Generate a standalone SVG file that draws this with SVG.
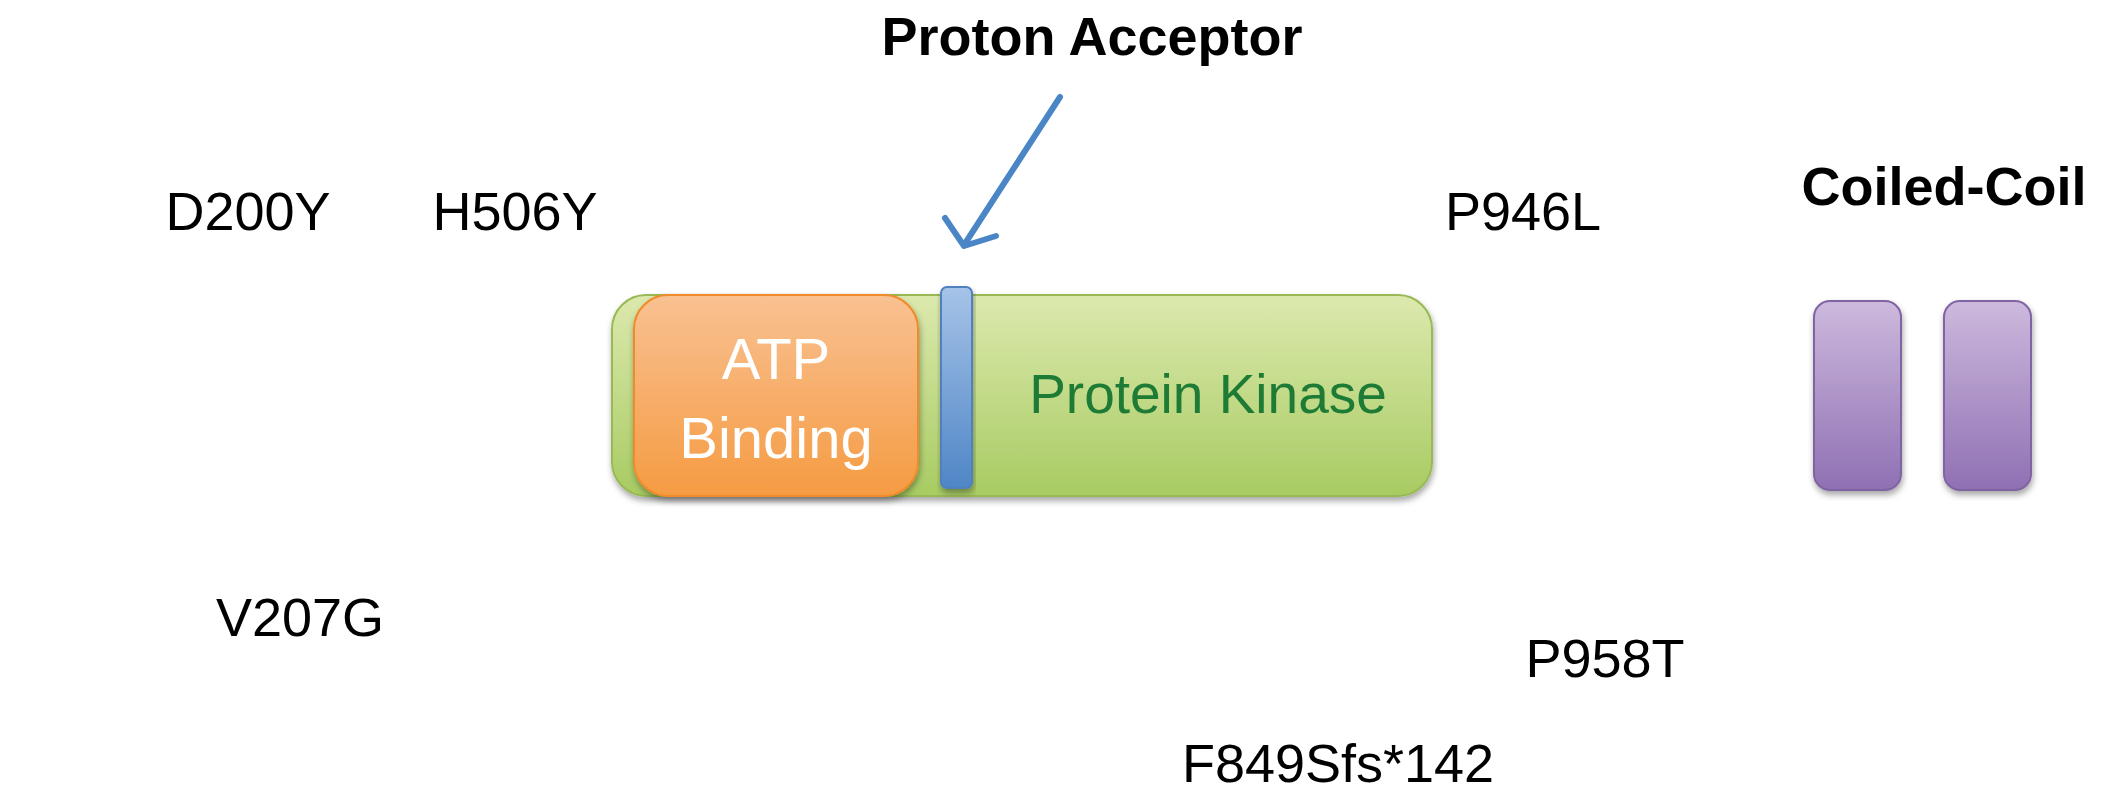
<svg xmlns="http://www.w3.org/2000/svg" width="2123" height="800" viewBox="0 0 2123 800">
<defs>
<linearGradient id="gGreen" x1="0" y1="0" x2="0" y2="1"><stop offset="0" stop-color="#DCE9AE"/><stop offset="1" stop-color="#A8CB62"/></linearGradient>
<linearGradient id="gOrange" x1="0" y1="0" x2="0" y2="1"><stop offset="0" stop-color="#F9C192"/><stop offset="1" stop-color="#F59B42"/></linearGradient>
<linearGradient id="gBlue" x1="0" y1="0" x2="0" y2="1"><stop offset="0" stop-color="#A6C3E8"/><stop offset="1" stop-color="#4F86C6"/></linearGradient>
<linearGradient id="gPurple" x1="0" y1="0" x2="0" y2="1"><stop offset="0" stop-color="#CDB9DD"/><stop offset="1" stop-color="#8F70B3"/></linearGradient>
<filter id="sh" x="-10%" y="-10%" width="120%" height="130%"><feDropShadow dx="1" dy="4" stdDeviation="3" flood-color="#000" flood-opacity="0.35"/></filter>
</defs>
<style>
.lbl{font-family:"Liberation Sans",Arial,sans-serif;font-size:54px;fill:#000;text-anchor:middle}
.bold{font-weight:bold}
.mut{stroke:#C9504D;stroke-width:5;filter:url(#sh)}
</style>
<rect width="2123" height="800" fill="#fff"/>
<g id="connectors">
<line id="backbone" x1="20" y1="395" x2="2103" y2="395" stroke="#4A86C6" stroke-width="6" filter="url(#sh)"/>
<path id="proton-arrow" d="M1060,97 L966,242 M945,218 L964,246 L996,236" fill="none" stroke="#4A86C6" stroke-width="6" stroke-linecap="round" stroke-linejoin="round"/>
</g>
<g id="kinase"><rect x="612" y="295" width="820" height="201" rx="34" fill="url(#gGreen)" stroke="#98B954" stroke-width="2" filter="url(#sh)"/>
<text class="lbl" x="1208" y="413" style="fill:#1E7B35;font-size:55px">Protein Kinase</text></g>
<g id="atp"><rect x="634" y="295" width="284" height="201" rx="34" fill="url(#gOrange)" stroke="#F08A2A" stroke-width="2" filter="url(#sh)"/>
<text class="lbl" x="776" y="379" style="fill:#fff;font-size:58px">ATP</text>
<text class="lbl" x="776" y="458" style="fill:#fff;font-size:58px">Binding</text></g>
<g id="proton-site"><rect x="941" y="287" width="31" height="201" rx="6" fill="url(#gBlue)" stroke="#4F81BD" stroke-width="2" filter="url(#sh)"/></g>
<g id="cc1"><rect x="1814" y="301" width="87" height="189" rx="16" fill="url(#gPurple)" stroke="#8064A2" stroke-width="2" filter="url(#sh)"/></g>
<g id="cc2"><rect x="1944" y="301" width="87" height="189" rx="16" fill="url(#gPurple)" stroke="#8064A2" stroke-width="2" filter="url(#sh)"/></g>
<g id="mutations">
<line class="mut" x1="211" y1="295" x2="211" y2="517"/>
<line class="mut" x1="288" y1="295" x2="288" y2="517"/>
<line class="mut" x1="519" y1="295" x2="519" y2="517"/>
<line class="mut" x1="1338" y1="447" x2="1338" y2="670"/>
<line class="mut" x1="1545" y1="295" x2="1545" y2="517"/>
<line class="mut" x1="1607" y1="295" x2="1607" y2="517"/>
</g>
<g id="labels">
<text class="lbl bold" x="1092" y="55">Proton Acceptor</text>
<text class="lbl bold" x="1944" y="205">Coiled-Coil</text>
<text class="lbl" x="248" y="230">D200Y</text>
<text class="lbl" x="515" y="230">H506Y</text>
<text class="lbl" x="300" y="636">V207G</text>
<text class="lbl" x="1523" y="230">P946L</text>
<text class="lbl" x="1605" y="677">P958T</text>
<text class="lbl" x="1338" y="782">F849Sfs*142</text>
</g>
</svg>
